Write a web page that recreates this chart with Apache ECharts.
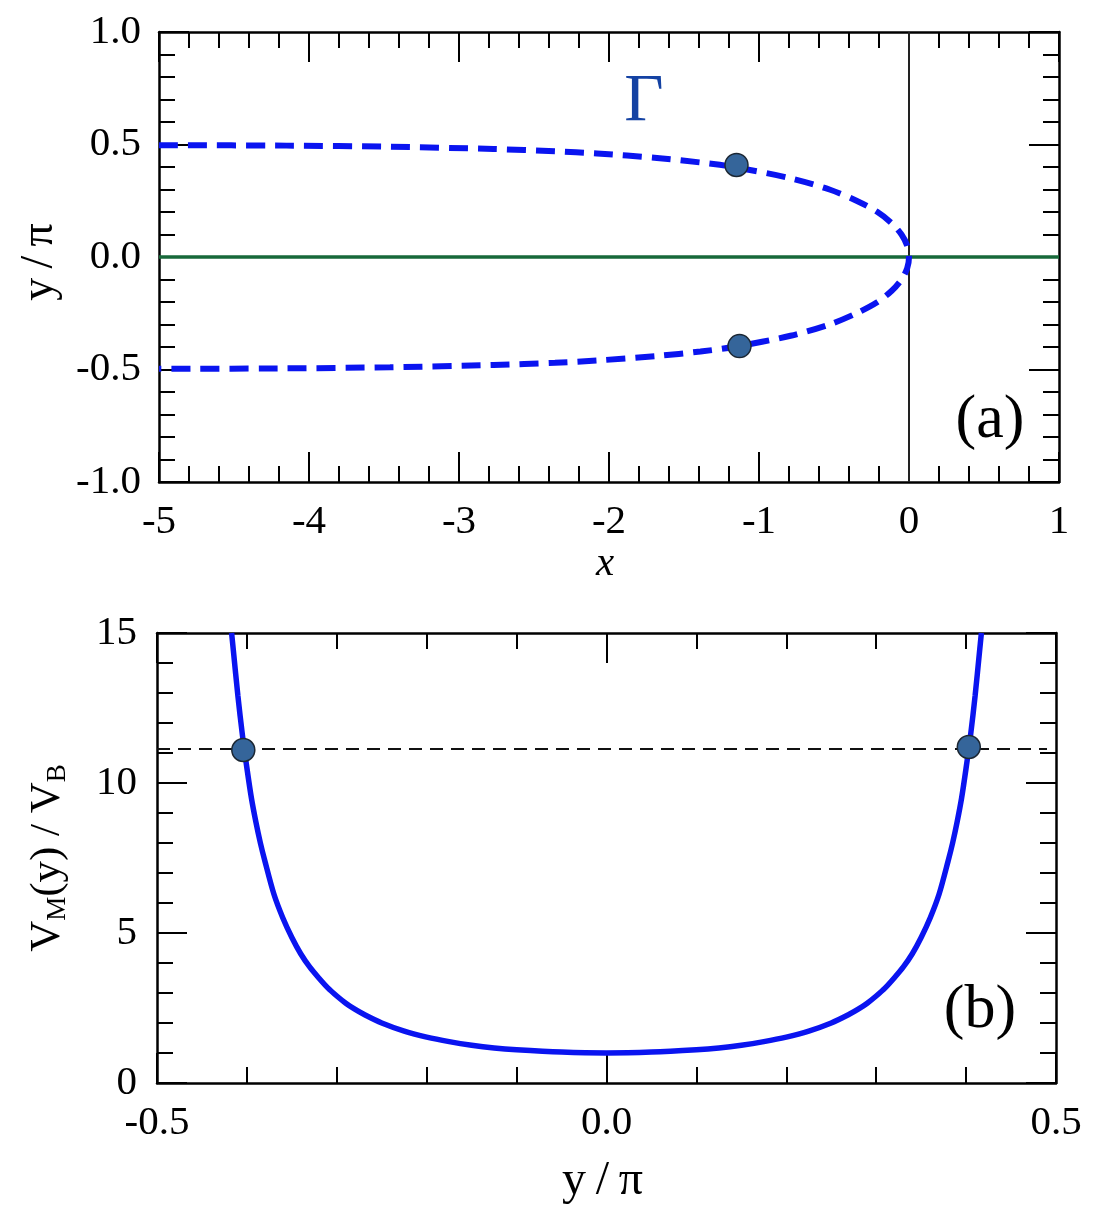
<!DOCTYPE html>
<html>
<head>
<meta charset="utf-8">
<script src="https://cdn.jsdelivr.net/npm/echarts@6/dist/echarts.min.js"></script>
<style>
  html, body { margin: 0; padding: 0; background: #fff; }
  #chart { width: 1093px; height: 1213px; }
</style>
</head>
<body>
<div id="chart"></div>
<script>
// (a) contour Gamma: x along the curve, y/pi along the curve
const gammaX = [-5.0, -4.15, -3.46, -2.77, -2.36, -2.08, -1.68, -1.39, -1.17, -0.79, -0.53, -0.35, -0.21, -0.115, -0.05, -0.012, 0,
  -0.012, -0.05, -0.115, -0.21, -0.35, -0.53, -0.79, -1.17, -1.39, -1.68, -2.08, -2.36, -2.77, -3.46, -4.15, -5.0]
const gammaY = [0.497, 0.495, 0.49, 0.48, 0.47, 0.46, 0.44, 0.42, 0.40, 0.35, 0.30, 0.25, 0.20, 0.15, 0.10, 0.05, 0,
  -0.05, -0.10, -0.15, -0.20, -0.25, -0.30, -0.35, -0.40, -0.42, -0.44, -0.46, -0.47, -0.48, -0.49, -0.495, -0.497]
// (a) marked points
const dotsAX = [-1.15, -1.13]
const dotsAY = [0.409, -0.396]
// (a) reference lines
const zeroLineX = [-5, 1]
const zeroLineY = [0, 0]
const vertLineX = [0, 0]
const vertLineY = [-1, 1]

// (b) V_M(y)/V_B against y/pi
const potY = [-0.417, -0.415, -0.41, -0.405, -0.40, -0.395, -0.39, -0.385, -0.38, -0.37, -0.36, -0.35, -0.34, -0.33, -0.32, -0.31, -0.30,
  -0.29, -0.28, -0.27, -0.25, -0.225, -0.20, -0.175, -0.15, -0.125, -0.10, -0.05, 0,
  0.05, 0.10, 0.125, 0.15, 0.175, 0.20, 0.225, 0.25, 0.27, 0.28, 0.29,
  0.30, 0.31, 0.32, 0.33, 0.34, 0.35, 0.36, 0.37, 0.38, 0.385, 0.39, 0.395, 0.40, 0.405, 0.41, 0.415, 0.417]
const potV = [15.0, 14.4, 12.9, 11.6, 10.5, 9.5, 8.7, 8.0, 7.4, 6.3, 5.5, 4.85, 4.3, 3.86, 3.5, 3.17, 2.9,
  2.66, 2.46, 2.29, 2.0, 1.73, 1.53, 1.38, 1.26, 1.17, 1.11, 1.03, 1.0,
  1.03, 1.11, 1.17, 1.26, 1.38, 1.53, 1.73, 2.0, 2.29, 2.46, 2.66,
  2.9, 3.17, 3.5, 3.86, 4.3, 4.85, 5.5, 6.3, 7.4, 8.0, 8.7, 9.5, 10.5, 11.6, 12.9, 14.4, 15.0]
const dotsBX = [-0.404, 0.403]
const dotsBY = [11.1, 11.2]
const levelX = [-0.5, 0.49]
const levelY = [11.13, 11.13]

// tick labels
const ticksAX = [-5, -4, -3, -2, -1, 0, 1]
const ticksAY = [-1.0, -0.5, 0.0, 0.5, 1.0]
const ticksBX = [-0.5, 0.0, 0.5]
const ticksBY = [0, 5, 10, 15]

const pairs = (xs, ys) => xs.map((x, i) => [x, ys[i]])
const serif = "'Liberation Serif', 'Times New Roman', serif"

function axis (opt) {
  // common look for the framed axes with inward ticks
  return Object.assign({
    type: 'value',
    axisLine: { show: true, onZero: false, lineStyle: { color: '#000', width: 2.5 } },
    axisTick: { show: true, inside: true, length: 30, lineStyle: { color: '#000', width: 2 } },
    minorTick: { show: true, splitNumber: 5, length: 16, lineStyle: { color: '#000', width: 2 } },
    splitLine: { show: false },
    minorSplitLine: { show: false },
    axisLabel: { color: '#000', fontFamily: serif, fontSize: 41 },
    nameTextStyle: { color: '#000', fontFamily: serif, fontSize: 41 }
  }, opt)
}
const noLabel = { show: false }

const chart = echarts.init(document.getElementById('chart'))
chart.setOption({
  animation: false,
  backgroundColor: '#fff',
  grid: [
    { left: 159, top: 32, width: 900, height: 450 },
    { left: 157, top: 633, width: 899, height: 450 }
  ],
  xAxis: [
    axis({
      gridIndex: 0, min: ticksAX[0], max: ticksAX[ticksAX.length - 1], interval: 1,
      name: 'x', nameLocation: 'middle', nameGap: 52,
      nameTextStyle: { color: '#000', fontFamily: serif, fontSize: 41, fontStyle: 'italic', padding: [0, 8, 0, 0] },
      axisLabel: { color: '#000', fontFamily: serif, fontSize: 41, margin: 20, formatter: v => String(v) }
    }),
    axis({ gridIndex: 0, position: 'top', min: -5, max: 1, interval: 1, axisLabel: noLabel }),
    axis({
      gridIndex: 1, min: ticksBX[0], max: ticksBX[ticksBX.length - 1], interval: 0.5,
      name: 'y\u2009/\u2009π', nameLocation: 'middle', nameGap: 74,
      nameTextStyle: { color: '#000', fontFamily: serif, fontSize: 48, padding: [0, 8, 0, 0] },
      axisLabel: { color: '#000', fontFamily: serif, fontSize: 41, margin: 20, formatter: v => v.toFixed(1) }
    }),
    axis({ gridIndex: 1, position: 'top', min: -0.5, max: 0.5, interval: 0.5, axisLabel: noLabel })
  ],
  yAxis: [
    axis({
      gridIndex: 0, min: ticksAY[0], max: ticksAY[ticksAY.length - 1], interval: 0.5,
      name: 'y\u2009/\u2009π', nameLocation: 'middle', nameGap: 96,
      nameTextStyle: { color: '#000', fontFamily: serif, fontSize: 46, padding: [0, 10, 0, 0] },
      axisLabel: { color: '#000', fontFamily: serif, fontSize: 41, margin: 18, formatter: v => v.toFixed(1) }
    }),
    axis({ gridIndex: 0, position: 'right', min: -1, max: 1, interval: 0.5, axisLabel: noLabel }),
    axis({
      gridIndex: 1, min: ticksBY[0], max: ticksBY[ticksBY.length - 1], interval: 5,
      name: '{m|V}{s|M}{m|(y) / V}{s|B}', nameLocation: 'middle', nameGap: 86,
      nameTextStyle: {
        color: '#000', fontFamily: serif, fontSize: 43,
        rich: {
          m: { fontFamily: serif, fontSize: 43, color: '#000' },
          s: { fontFamily: serif, fontSize: 27, color: '#000', padding: [20, 0, 0, 0] }
        }
      },
      axisLabel: { color: '#000', fontFamily: serif, fontSize: 41, margin: 20 }
    }),
    axis({ gridIndex: 1, position: 'right', min: 0, max: 15, interval: 5, axisLabel: noLabel })
  ],
  series: [
    {
      type: 'line', xAxisIndex: 0, yAxisIndex: 0, data: pairs(vertLineX, vertLineY),
      symbol: 'none', lineStyle: { color: '#222', width: 2 }, z: 2
    },
    {
      type: 'line', xAxisIndex: 0, yAxisIndex: 0, data: pairs(zeroLineX, zeroLineY),
      symbol: 'none', lineStyle: { color: '#17693a', width: 3.5 }, z: 3
    },
    {
      type: 'line', xAxisIndex: 0, yAxisIndex: 0, data: pairs(gammaX, gammaY),
      symbol: 'none', smooth: 0.3,
      lineStyle: { color: '#0a14f0', width: 6, type: [19, 10] }, z: 4
    },
    {
      type: 'scatter', xAxisIndex: 0, yAxisIndex: 0, data: pairs(dotsAX, dotsAY),
      symbolSize: 23, itemStyle: { color: '#35659a', borderColor: '#1c2733', borderWidth: 1.5, opacity: 1 }, z: 6
    },
    {
      type: 'line', xAxisIndex: 2, yAxisIndex: 2, data: pairs(levelX, levelY),
      symbol: 'none', lineStyle: { color: '#111', width: 2, type: [13, 8] }, z: 3
    },
    {
      type: 'line', xAxisIndex: 2, yAxisIndex: 2, data: pairs(potY, potV),
      symbol: 'none', smooth: 0.3,
      lineStyle: { color: '#0a14f0', width: 5.5 }, z: 4
    },
    {
      type: 'scatter', xAxisIndex: 2, yAxisIndex: 2, data: pairs(dotsBX, dotsBY),
      symbolSize: 23, itemStyle: { color: '#35659a', borderColor: '#1c2733', borderWidth: 1.5, opacity: 1 }, z: 6
    }
  ],
  graphic: [
    {
      type: 'text', x: 644, y: 102, z: 10,
      style: { text: 'Γ', fontFamily: serif, fontSize: 68, fill: '#1442a3', align: 'center', verticalAlign: 'middle' }
    },
    {
      type: 'text', x: 990, y: 421, z: 10,
      style: { text: '(a)', fontFamily: serif, fontSize: 62, fill: '#000', align: 'center', verticalAlign: 'middle' }
    },
    {
      type: 'text', x: 980, y: 1011, z: 10,
      style: { text: '(b)', fontFamily: serif, fontSize: 62, fill: '#000', align: 'center', verticalAlign: 'middle' }
    }
  ]
})
</script>
</body>
</html>
